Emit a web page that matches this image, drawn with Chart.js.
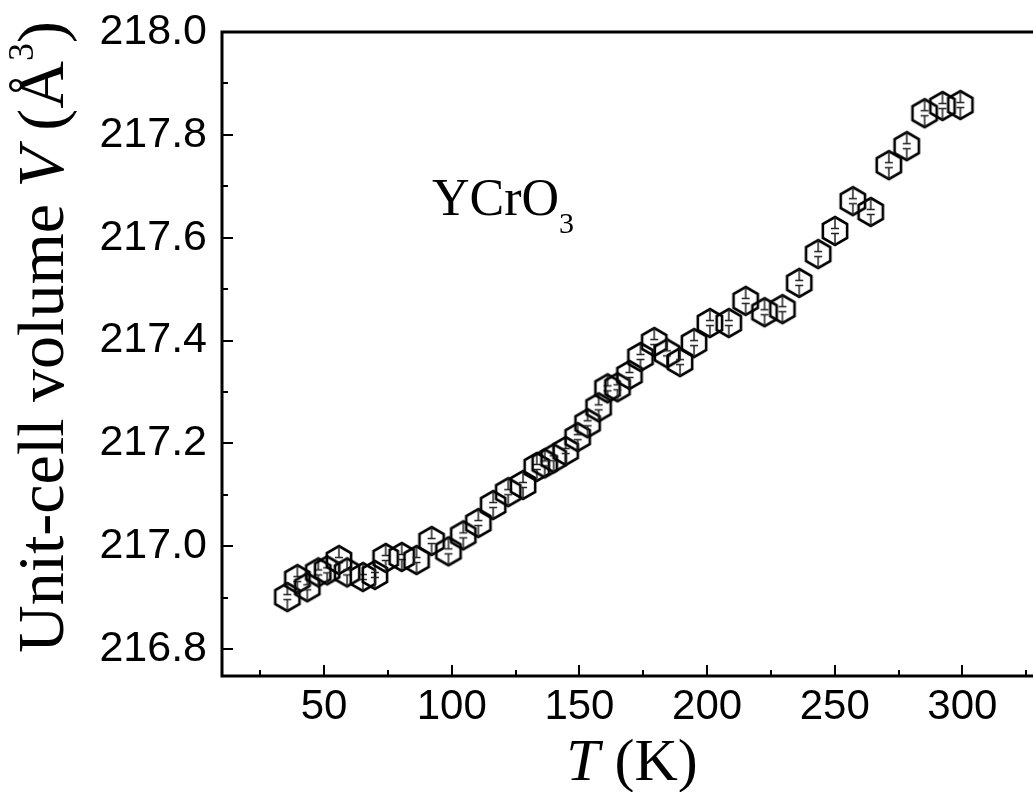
<!DOCTYPE html>
<html>
<head>
<meta charset="utf-8">
<script src="https://cdn.jsdelivr.net/npm/chart.js@4"></script>
<style>
    body { margin: 0; background: #fff; overflow: hidden; }
    canvas { display: block; }
</style>
</head>
<body>
<canvas id="volumeChart" width="1033" height="792"></canvas>
<script>
// Temperature (K) and unit-cell volume (A^3)
const temperature = [35.6, 39.5, 43.4, 47.7, 51.2, 55.8, 59.0, 65.2, 69.9, 74.1,
    80.4, 86.2, 92.1, 98.7, 104.5, 110.4, 116.2, 122.1, 127.9, 133.3,
    136.4, 139.9, 144.6, 149.3, 153.2, 157.5, 161.0, 164.9, 169.6, 173.9,
    179.3, 184.3, 189.4, 194.9, 201.1, 208.5, 215.1, 222.5, 229.5, 236.1,
    243.5, 250.1, 257.1, 264.1, 271.2, 278.2, 285.2, 292.2, 299.2];
const volume = [216.901, 216.936, 216.920, 216.949, 216.953, 216.973, 216.949, 216.940, 216.944, 216.977,
    216.979, 216.973, 217.010, 216.990, 217.021, 217.045, 217.080, 217.105, 217.119, 217.154,
    217.161, 217.171, 217.185, 217.212, 217.239, 217.270, 217.307, 217.309, 217.333, 217.368,
    217.397, 217.375, 217.358, 217.395, 217.434, 217.434, 217.477, 217.455, 217.461, 217.512,
    217.568, 217.613, 217.671, 217.650, 217.741, 217.778, 217.842, 217.856, 217.858];

const xTicks = [50, 100, 150, 200, 250, 300];
const xMinorTicks = [25, 75, 125, 175, 225, 275, 325];
const yTicks = [216.8, 217.0, 217.2, 217.4, 217.6, 217.8, 218.0];
const yMinorTicks = [216.9, 217.1, 217.3, 217.5, 217.7, 217.9];

// hexagon marker with a small error bar inside
function makeMarker() {
    const c = document.createElement("canvas");
    c.width = 36;
    c.height = 36;
    const g = c.getContext("2d");
    const cx = 18, cy = 18, r = 14;
    g.strokeStyle = "#000";
    g.lineWidth = 2.6;
    g.beginPath();
    for (let i = 0; i < 6; i++) {
        const a = -Math.PI / 2 + i * Math.PI / 3;
        const px = cx + r * Math.cos(a), py = cy + r * Math.sin(a);
        if (i === 0) g.moveTo(px, py); else g.lineTo(px, py);
    }
    g.closePath();
    g.stroke();
    g.strokeStyle = "#222";
    g.lineWidth = 1.5;
    g.beginPath();
    g.moveTo(cx, cy - r); g.lineTo(cx, cy - 2.4);
    g.moveTo(cx - 4, cy - 2.4); g.lineTo(cx + 4, cy - 2.4);
    g.moveTo(cx - 4, cy + 2.4); g.lineTo(cx + 4, cy + 2.4);
    g.moveTo(cx, cy + 2.4); g.lineTo(cx, cy + r);
    g.stroke();
    return c;
}

// draw a run of text pieces with different styles, starting at x
function drawPieces(ctx, pieces, x, y) {
    pieces.forEach(p => {
        ctx.font = p.font;
        ctx.fillText(p.text, x, y + (p.dy || 0));
        x += ctx.measureText(p.text).width;
    });
}
function piecesWidth(ctx, pieces) {
    let w = 0;
    pieces.forEach(p => { ctx.font = p.font; w += ctx.measureText(p.text).width; });
    return w;
}

const serif = "'Liberation Serif', 'Times New Roman', serif";

const framePlugin = {
    id: "frame",
    afterDatasetsDraw(chart) {
        const ctx = chart.ctx;
        const area = chart.chartArea;
        const xs = chart.scales.x, ys = chart.scales.y;
        ctx.save();
        ctx.strokeStyle = "#000";

        // axis box (right side runs off the picture)
        ctx.lineWidth = 3;
        ctx.beginPath();
        ctx.moveTo(area.right + 10, area.top);
        ctx.lineTo(area.left, area.top);
        ctx.lineTo(area.left, area.bottom);
        ctx.lineTo(area.right + 10, area.bottom);
        ctx.stroke();

        // inward ticks
        ctx.lineWidth = 2;
        ctx.beginPath();
        xTicks.forEach(v => {
            const px = Math.round(xs.getPixelForValue(v));
            ctx.moveTo(px, area.bottom); ctx.lineTo(px, area.bottom - 11);
        });
        xMinorTicks.forEach(v => {
            const px = Math.round(xs.getPixelForValue(v));
            ctx.moveTo(px, area.bottom); ctx.lineTo(px, area.bottom - 6);
        });
        yTicks.forEach(v => {
            const py = Math.round(ys.getPixelForValue(v));
            ctx.moveTo(area.left, py); ctx.lineTo(area.left + 11, py);
        });
        yMinorTicks.forEach(v => {
            const py = Math.round(ys.getPixelForValue(v));
            ctx.moveTo(area.left, py); ctx.lineTo(area.left + 6, py);
        });
        ctx.stroke();

        ctx.fillStyle = "#000";
        ctx.textBaseline = "alphabetic";
        ctx.textAlign = "left";

        // sample label
        drawPieces(ctx, [
            { text: "YCrO", font: "52px " + serif },
            { text: "3", font: "30px " + serif, dy: 18 }
        ], 432, 215);

        // x title
        const xTitle = [
            { text: "T", font: "italic 60px " + serif },
            { text: " (K)", font: "60px " + serif }
        ];
        drawPieces(ctx, xTitle, 632 - piecesWidth(ctx, xTitle) / 2, 780);

        // y title, rotated
        const yTitle = [
            { text: "Unit-cell volume ", font: "66px " + serif },
            { text: "V", font: "italic 66px " + serif },
            { text: " (\u00c5", font: "66px " + serif },
            { text: "3", font: "36px " + serif, dy: -30 },
            { text: ")", font: "66px " + serif }
        ];
        ctx.translate(63, 337);
        ctx.rotate(-Math.PI / 2);
        drawPieces(ctx, yTitle, -piecesWidth(ctx, yTitle) / 2, 0);
        ctx.restore();
    }
};

const points = temperature.map((t, i) => ({ x: t, y: volume[i] }));

new Chart(document.getElementById("volumeChart"), {
    type: "scatter",
    data: {
        datasets: [{
            data: points,
            pointStyle: makeMarker(),
            showLine: false
        }]
    },
    options: {
        responsive: false,
        animation: false,
        events: [],
        layout: { padding: { top: 32, left: 0, right: 0, bottom: 0 } },
        plugins: {
            legend: { display: false },
            tooltip: { enabled: false }
        },
        scales: {
            x: {
                type: "linear",
                min: 10,
                max: 325.7,
                grid: { display: false, drawTicks: false },
                border: { display: false },
                afterBuildTicks: s => { s.ticks = xTicks.map(v => ({ value: v })); },
                afterFit: s => {
                    s.height = 116;
                    s.paddingLeft = 0;
                    s.paddingRight = 0;
                },
                ticks: {
                    padding: 6,
                    color: "#000",
                    maxRotation: 0,
                    font: { family: "'Liberation Sans', Arial, sans-serif", size: 42 },
                    callback: v => String(v)
                }
            },
            y: {
                type: "linear",
                min: 216.7475,
                max: 218.0,
                grid: { display: false, drawTicks: false },
                border: { display: false },
                afterBuildTicks: s => { s.ticks = yTicks.map(v => ({ value: v })); },
                afterFit: s => {
                    s.width = 222;
                    s.paddingTop = 0;
                    s.paddingBottom = 0;
                },
                ticks: {
                    padding: 15,
                    color: "#000",
                    font: { family: "'Liberation Sans', Arial, sans-serif", size: 43 },
                    callback: v => Number(v).toFixed(1)
                }
            }
        }
    },
    plugins: [framePlugin]
});
</script>
</body>
</html>
